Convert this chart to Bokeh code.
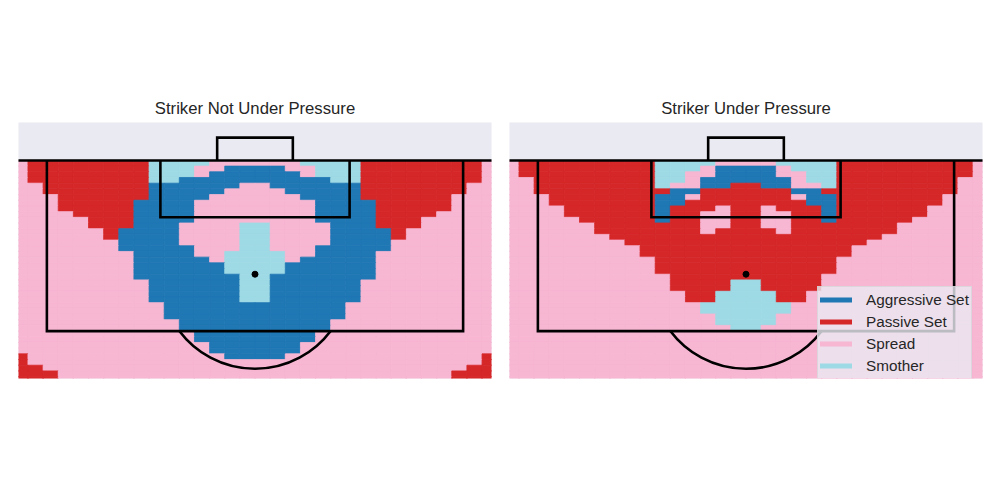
import numpy as np
from bokeh.plotting import figure
from bokeh.models import ColumnDataSource, Range1d, Legend, LegendItem
from bokeh.layouts import row
from bokeh.embed import file_html
from bokeh.resources import INLINE

# ---------------- data ----------------
CATEGORY_CODES = ["A", "P", "S", "M"]
CATEGORY_LABELS = ["Aggressive Set", "Passive Set", "Spread", "Smother"]
CATEGORY_COLORS = ["#1f77b4", "#d62728", "#f7b6d2", "#9edae5"]

PANEL_TITLES = ["Striker Not Under Pressure", "Striker Under Pressure"]

# grid of cells: 1.6 wide across the pitch, 0.6 deep, rows listed from the goal line outwards
BIN_W = 1.6
BIN_H = 0.6
GRID_X0 = 14.4
GRID_Y0 = 120.0

NOT_UNDER_PRESSURE = [
    "SPPPPPPPPMMMMSSSSSSMMMMPPPPPPPPS",
    "SPPPPPPPPMMMSSAAAASSMMMPPPPPPPPS",
    "SPPPPPPPPMMMSAAAAAASMMMPPPPPPPPS",
    "SPPPPPPPPMMAAAAAAAAAAMMPPPPPPPPS",
    "SSPPPPPPPAAAAAASSAAAAAAPPPPPPPSS",
    "SSPPPPPPPAAAAASSSSAAAAAPPPPPPPSS",
    "SSSPPPPPPAAAASSSSSSAAAAPPPPPPSSS",
    "SSSPPPPPAAAASSSSSSSSAAAAPPPPPSSS",
    "SSSPPPPPAAAASSSSSSSSAAAAPPPPPSSS",
    "SSSSPPPPAAAASSSSSSSSAAAAPPPPSSSS",
    "SSSSSPPPAAAASSSSSSSSAAAAPPPSSSSS",
    "SSSSSPPPAAASSSSMMSSSSAAAPPPSSSSS",
    "SSSSSSPAAAASSSSMMSSSSAAAAPSSSSSS",
    "SSSSSSPAAAASSSSMMSSSSAAAAPSSSSSS",
    "SSSSSSSAAAASSSSMMSSSSAAAASSSSSSS",
    "SSSSSSSAAAAASSSMMSSSAAAAASSSSSSS",
    "SSSSSSSSAAAASSMMMMSSAAAASSSSSSSS",
    "SSSSSSSSAAAAASMMMMSAAAAASSSSSSSS",
    "SSSSSSSSAAAAAAMMMMAAAAAASSSSSSSS",
    "SSSSSSSSAAAAAAMMMMAAAAAASSSSSSSS",
    "SSSSSSSSAAAAAAAMMAAAAAAASSSSSSSS",
    "SSSSSSSSSAAAAAAMMAAAAAASSSSSSSSS",
    "SSSSSSSSSAAAAAAMMAAAAAASSSSSSSSS",
    "SSSSSSSSSAAAAAAMMAAAAAASSSSSSSSS",
    "SSSSSSSSSAAAAAAMMAAAAAASSSSSSSSS",
    "SSSSSSSSSSAAAAAAAAAAAASSSSSSSSSS",
    "SSSSSSSSSSAAAAAAAAAAAASSSSSSSSSS",
    "SSSSSSSSSSAAAAAAAAAAAASSSSSSSSSS",
    "SSSSSSSSSSSAAAAAAAAAASSSSSSSSSSS",
    "SSSSSSSSSSSAAAAAAAAAASSSSSSSSSSS",
    "SSSSSSSSSSSSAAAAAAAASSSSSSSSSSSS",
    "SSSSSSSSSSSSAAAAAAAASSSSSSSSSSSS",
    "SSSSSSSSSSSSSAAAAAASSSSSSSSSSSSS",
    "SSSSSSSSSSSSSAAAAAASSSSSSSSSSSSS",
    "PSSSSSSSSSSSSSAAAASSSSSSSSSSSSSP",
    "PSSSSSSSSSSSSSSSSSSSSSSSSSSSSSSP",
    "PPSSSSSSSSSSSSSSSSSSSSSSSSSSSSPP",
    "PPPSSSSSSSSSSSSSSSSSSSSSSSSSSPPP",
    "PPPSSSSSSSSSSSSSSSSSSSSSSSSSSPPP",
]

UNDER_PRESSURE = [
    "SPPPPPPPPPMMMMSSSSMMMMPPPPPPPPPS",
    "SPPPPPPPPPMMMSAAAASMMMPPPPPPPPPS",
    "SPPPPPPPPPMMSSAAAASSMMPPPPPPPPPS",
    "SSPPPPPPPPMMSAAAAAASMMPPPPPPPPSS",
    "SSPPPPPPPPMSSAAPPAASSMPPPPPPPPSS",
    "SSPPPPPPPPPAAPPPPPPAAPPPPPPPPPSS",
    "SSSPPPPPPPAASPPPPPPSAAPPPPPPPSSS",
    "SSSPPPPPPPAAPPPPPPPPAAPPPPPPPSSS",
    "SSSSPPPPPPAPPPSPPSPPPAPPPPPPSSSS",
    "SSSSPPPPPPAPPSSPPSSPPAPPPPPPSSSS",
    "SSSSSPPPPPAPPSSPPSSPPAPPPPPSSSSS",
    "SSSSSSPPPPPPPSSPPSSPPPPPPPSSSSSS",
    "SSSSSSPPPPPPPSPPPPSPPPPPPPSSSSSS",
    "SSSSSSSPPPPPPPPPPPPPPPPPPSSSSSSS",
    "SSSSSSSSPPPPPPPPPPPPPPPPSSSSSSSS",
    "SSSSSSSSSPPPPPPPPPPPPPPSSSSSSSSS",
    "SSSSSSSSSPPPPPPPPPPPPPPSSSSSSSSS",
    "SSSSSSSSSSPPPPPPPPPPPPSSSSSSSSSS",
    "SSSSSSSSSSPPPPPPPPPPPPSSSSSSSSSS",
    "SSSSSSSSSSPPPPPPPPPPPPSSSSSSSSSS",
    "SSSSSSSSSSSPPPPPPPPPPSSSSSSSSSSS",
    "SSSSSSSSSSSPPPPMMPPPPSSSSSSSSSSS",
    "SSSSSSSSSSSPPPPMMPPPPSSSSSSSSSSS",
    "SSSSSSSSSSSSPPMMMMPPSSSSSSSSSSSS",
    "SSSSSSSSSSSSPPMMMMPPSSSSSSSSSSSS",
    "SSSSSSSSSSSSSMMMMMMSSSSSSSSSSSSS",
    "SSSSSSSSSSSSSMMMMMMSSSSSSSSSSSSS",
    "SSSSSSSSSSSSSSMMMMSSSSSSSSSSSSSS",
    "SSSSSSSSSSSSSSMMMMSSSSSSSSSSSSSS",
    "SSSSSSSSSSSSSSSMMSSSSSSSSSSSSSSS",
    "SSSSSSSSSSSSSSSSSSSSSSSSSSSSSSSS",
    "SSSSSSSSSSSSSSSSSSSSSSSSSSSSSSSS",
    "SSSSSSSSSSSSSSSSSSSSSSSSSSSSSSSS",
    "SSSSSSSSSSSSSSSSSSSSSSSSSSSSSSSS",
    "SSSSSSSSSSSSSSSSSSSSSSSSSSSSSSSS",
    "SSSSSSSSSSSSSSSSSSSSSSSSSSSSSSSS",
    "SSSSSSSSSSSSSSSSSSSSSSSSSSSSSSSS",
    "SSSSSSSSSSSSSSSSSSSSSSSSSSSSSSSS",
    "SSSSSSSSSSSSSSSSSSSSSSSSSSSSSSSS",
]

# pitch markings (StatsBomb 120 x 80 coordinates, attacking the top goal)
PITCH_WIDTH = 80
GOAL_LINE_Y = 120
BOX_X = (18, 62)
BOX_Y = 102
SIX_X = (30, 50)
SIX_Y = 114
GOAL_X = (36, 44)
GOAL_DEPTH = 2.4
SPOT = (40, 108)
ARC_R = 10

X_VIEW = (15, 65)
Y_VIEW = (97, 124)

TEXT_COLOR = "#262626"
FONT = "Liberation Sans"


def grid_source(rows):
    cmap = dict(zip(CATEGORY_CODES, CATEGORY_COLORS))
    xs, ys, cols = [], [], []
    for r, line in enumerate(rows):
        for c, code in enumerate(line):
            xs.append(GRID_X0 + BIN_W * (c + 0.5))
            ys.append(GRID_Y0 - BIN_H * (r + 0.5))
            cols.append(cmap[code])
    return ColumnDataSource(dict(x=xs, y=ys, color=cols))


def make_panel(title, rows, border_left, border_right, with_legend):
    p = figure(width=500, height=500,
               x_range=Range1d(*X_VIEW), y_range=Range1d(*Y_VIEW),
               output_backend="svg", toolbar_location=None,
               x_axis_location=None, y_axis_location=None,
               min_border_left=border_left, min_border_right=border_right,
               min_border_top=122, min_border_bottom=122,
               background_fill_color="#eaeaf2", border_fill_color="white",
               outline_line_color=None, title=title)
    p.grid.visible = False
    p.title.align = "center"
    p.title.text_font = FONT
    p.title.text_font_size = "16.7px"
    p.title.text_font_style = "normal"
    p.title.text_color = TEXT_COLOR

    src = grid_source(rows)
    p.rect("x", "y", width=BIN_W, height=BIN_H, source=src,
           fill_color="color", line_color="color", line_width=0.8)

    lw = 2.6
    p.line([0, PITCH_WIDTH], [GOAL_LINE_Y, GOAL_LINE_Y], line_color="black", line_width=lw)
    p.line([BOX_X[0], BOX_X[0], BOX_X[1], BOX_X[1]],
           [GOAL_LINE_Y, BOX_Y, BOX_Y, GOAL_LINE_Y],
           line_color="black", line_width=lw, line_join="miter")
    p.line([SIX_X[0], SIX_X[0], SIX_X[1], SIX_X[1]],
           [GOAL_LINE_Y, SIX_Y, SIX_Y, GOAL_LINE_Y],
           line_color="black", line_width=lw, line_join="miter")
    p.line([GOAL_X[0], GOAL_X[0], GOAL_X[1], GOAL_X[1]],
           [GOAL_LINE_Y, GOAL_LINE_Y + GOAL_DEPTH, GOAL_LINE_Y + GOAL_DEPTH, GOAL_LINE_Y],
           line_color="black", line_width=lw, line_join="miter")
    half = np.arccos((SPOT[1] - BOX_Y) / ARC_R)
    p.arc(x=[SPOT[0]], y=[SPOT[1]], radius=ARC_R,
          start_angle=1.5 * np.pi - half, end_angle=1.5 * np.pi + half,
          direction="anticlock", line_color="black", line_width=lw)
    p.scatter([SPOT[0]], [SPOT[1]], size=6, color="black")

    if with_legend:
        items = []
        # legend-only lines, placed outside the visible range
        for lab, col in zip(CATEGORY_LABELS, CATEGORY_COLORS):
            r = p.line(x=[-100, -99], y=[0, 0], line_color=col, line_width=5,
                       line_cap="round")
            items.append(LegendItem(label=lab, renderers=[r]))
        legend = Legend(items=items, location=(308, -1), margin=0,
                        padding=2, spacing=1,
                        glyph_width=32, glyph_height=21, label_height=21,
                        label_standoff=14,
                        label_text_font=FONT, label_text_font_size="15.3px",
                        label_text_color=TEXT_COLOR,
                        background_fill_color="#eaeaf2", background_fill_alpha=0.8,
                        border_line_color="#cccccc", border_line_width=1)
        p.add_layout(legend)
    return p


p1 = make_panel(PANEL_TITLES[0], NOT_UNDER_PRESSURE, 18, 9, False)
p2 = make_panel(PANEL_TITLES[1], UNDER_PRESSURE, 9, 18, True)
layout = row(p1, p2)

open("out.html", "w").write(file_html(layout, INLINE))
